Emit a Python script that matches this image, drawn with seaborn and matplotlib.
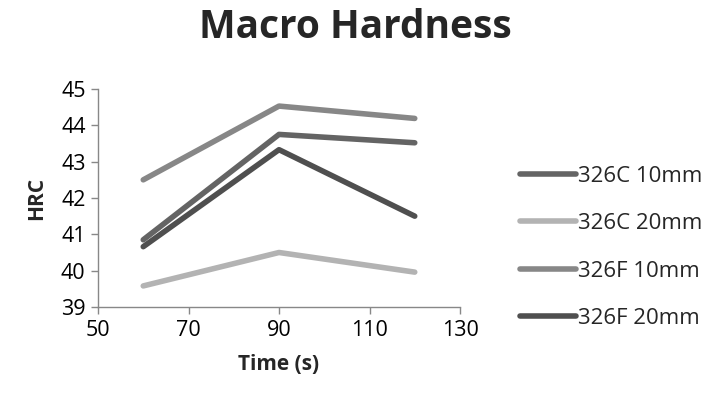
import matplotlib
matplotlib.use("Agg")
import matplotlib.pyplot as plt
import seaborn as sns
import pandas as pd

time_s = [60, 90, 120]
series_names = ["326C 10mm", "326C 20mm", "326F 10mm", "326F 20mm"]
c10 = [40.85, 43.75, 43.52]
c20 = [39.58, 40.50, 39.96]
f10 = [42.50, 44.53, 44.19]
f20 = [40.66, 43.33, 41.50]
colors = ["#646464", "#b3b3b3", "#878787", "#4f4f4f"]
yticks = [39, 40, 41, 42, 43, 44, 45]
xticks = [50, 70, 90, 110, 130]

rows = []
for name, vals in zip(series_names, [c10, c20, f10, f20]):
    for t, v in zip(time_s, vals):
        rows.append({"Time": t, "HRC": v, "Series": name})
df = pd.DataFrame(rows)

sns.set_theme(style="white")
plt.rcParams["font.family"] = ["Open Sans", "DejaVu Sans"]

fig = plt.figure(figsize=(7.09, 3.96), dpi=100)
ax = fig.add_axes([98/709, 1-307/396, (460-98)/709, (307-89)/396])
sns.lineplot(data=df, x="Time", y="HRC", hue="Series", hue_order=series_names,
             palette=colors, linewidth=4, ax=ax, legend=True, solid_capstyle="round")

ax.set_xlim(50, 130)
ax.set_ylim(39, 45)
ax.set_xticks(xticks)
ax.set_yticks(yticks)
ax.tick_params(axis="both", labelsize=15.5, length=5, width=1,
               direction="out", bottom=True, left=True, colors="black", pad=4)
ax.tick_params(axis="both", color="#888888")
for s in ["top", "right"]:
    ax.spines[s].set_visible(False)
for s in ["left", "bottom"]:
    ax.spines[s].set_color("#888888")
    ax.spines[s].set_linewidth(1)
ax.set_xlabel("Time (s)", fontsize=15, fontweight="bold", labelpad=10)
ax.set_ylabel("HRC", fontsize=15, fontweight="bold", labelpad=10)
fig.text(355/709, 1-27/396, "Macro Hardness", fontsize=28, fontweight="bold",
         ha="center", va="center")

leg = ax.legend(loc="center left", bbox_to_anchor=(1.166, 0.273), frameon=False,
                fontsize=16, handlelength=2.5, handletextpad=0.1, labelspacing=1.19,
                borderpad=0, borderaxespad=0)
for line in leg.get_lines():
    line.set_linewidth(4)
    line.set_solid_capstyle("round")

fig.savefig("out.png", dpi=100)
